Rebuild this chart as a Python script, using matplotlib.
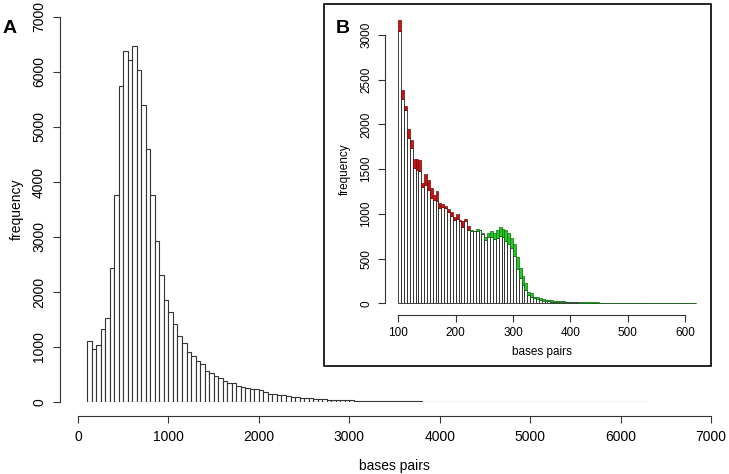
import numpy as np
import matplotlib.pyplot as plt
from matplotlib.patches import Rectangle

plt.rcParams['font.family'] = ['Liberation Sans', 'DejaVu Sans']

# panel A: fragment lengths, bins of 50 bp starting at 100
main_start, main_step = 100, 50
main_counts = [
    1115, 958, 1030, 1333, 1533, 2442, 3764, 5745, 6376, 6224,
    6473, 6030, 5394, 4606, 3758, 2933, 2303, 1848,
    1642, 1412, 1206, 1067, 903, 842, 745, 685, 570, 533,
    473, 442, 382, 352, 352, 291, 273, 261, 230, 242,
    212, 188, 152, 139, 133, 121, 109, 97, 91, 79,
    79, 67, 48, 55, 48, 42, 36, 30,
    33, 31, 28, 27, 24, 23, 21, 20, 18, 17,
    16, 15, 14, 13, 12, 11, 10, 10, 9, 8,
    8, 7, 7, 6, 6, 5, 5, 5, 4, 4,
    4, 3, 3, 3, 3, 2, 2, 2, 2, 2,
    2, 1, 2, 1, 1, 1, 1, 1, 1, 1,
    1, 1, 0, 1, 1, 0, 1, 0, 0, 1,
    0, 1, 0, 0, 1, 0, 0, 1,
]

# panel B: bins of 5 bp starting at 100; base = white bars, top = coloured cap
inset_start, inset_step = 100, 5
inset_base = [
    3040, 2285, 2158, 1852, 1733, 1510, 1491, 1480, 1300, 1323,
    1267, 1181, 1155, 1144, 1062, 1072, 1070, 1024, 975, 930,
    948, 922, 855, 922, 822, 808, 805, 812, 815, 780,
    708, 738, 746, 716, 727, 753, 738, 695, 665, 620,
    525, 380, 283, 205, 152, 93, 67, 54, 44, 37,
    30, 26, 22, 20, 18, 16, 15, 14, 12, 11,
    10, 9, 9, 8, 8, 7, 8, 7, 6, 6,
    5, 5, 4, 4, 4, 3, 3, 3, 3, 2,
    2, 2, 2, 2, 1, 1, 1, 1, 1, 1,
    1, 1, 0, 1, 0, 0, 1, 0, 0, 0,
    0, 0, 0, 0,
]
inset_top = [
    3170, 2386, 2206, 1946, 1823, 1614, 1610, 1605, 1349, 1446,
    1383, 1286, 1211, 1256, 1125, 1108, 1085, 1050, 1022, 970,
    998, 932, 924, 938, 866, 820, 812, 828, 822, 790,
    746, 783, 813, 783, 820, 850, 828, 820, 789, 735,
    660, 521, 390, 300, 223, 130, 112, 75, 67, 56,
    45, 41, 37, 33, 30, 27, 25, 22, 20, 18,
    17, 15, 14, 13, 12, 11, 14, 12, 10, 9,
    8, 7, 7, 6, 5, 5, 5, 4, 4, 4,
    3, 3, 3, 3, 2, 2, 2, 2, 2, 1,
    2, 1, 1, 1, 1, 1, 1, 1, 0, 1,
    1, 0, 1, 0,
]
red_until = 225  # caps left of this are red, the rest green

W, H = 729, 474
fig = plt.figure(figsize=(W / 100, H / 100), dpi=100)


def style_axis(ax, left_out, bottom_out, xb, yb, fs, pad):
    ax.spines['top'].set_visible(False)
    ax.spines['right'].set_visible(False)
    ax.spines['left'].set_position(('outward', left_out))
    ax.spines['bottom'].set_position(('outward', bottom_out))
    ax.spines['left'].set_bounds(*yb)
    ax.spines['bottom'].set_bounds(*xb)
    for s in ('left', 'bottom'):
        ax.spines[s].set_linewidth(0.8)
        ax.spines[s].set_color('#333333')
    ax.tick_params(length=5, width=0.8, color='#333333', labelsize=fs, pad=pad)
    for lab in ax.get_yticklabels():
        lab.set_rotation(90)
        lab.set_va('center')


# main histogram
ax = fig.add_axes([78 / W, (H - 402) / H, (711 - 78) / W, (402 - 17) / H])
edges = main_start + main_step * np.arange(len(main_counts))
ax.bar(edges, main_counts, width=main_step, align='edge', color='white',
       edgecolor='#333333', linewidth=0.8)
ax.set_xlim(0, 7000)
ax.set_ylim(0, 7000)
ax.set_xticks(np.arange(0, 7001, 1000))
ax.set_yticks(np.arange(0, 7001, 1000))
ax.patch.set_visible(False)
style_axis(ax, 13, 10, (0, 7000), (0, 7000), 10, 5)
ax.set_xlabel('bases pairs', fontsize=10, labelpad=11)
ax.set_ylabel('frequency', fontsize=10, labelpad=6)

# inset frame
fig.add_artist(Rectangle((324 / W, (H - 366) / H), (711 - 324) / W, (366 - 4) / H,
                         transform=fig.transFigure, facecolor='white',
                         edgecolor='black', linewidth=1.2, zorder=1))

# inset histogram
ax2 = fig.add_axes([398.3 / W, (H - 303.3) / H, (685 - 398.3) / W, (303.3 - 35) / H], zorder=2)
e2 = inset_start + inset_step * np.arange(len(inset_base))
base = np.array(inset_base)
top = np.array(inset_top)
ax2.bar(e2, base, width=inset_step, align='edge', color='white',
        edgecolor='#222222', linewidth=0.6, clip_on=False)
red = e2 < red_until
ax2.bar(e2[red], (top - base)[red], bottom=base[red], width=inset_step, align='edge',
        color='#cc1111', edgecolor='#661111', linewidth=0.5, clip_on=False)
ax2.bar(e2[~red], (top - base)[~red], bottom=base[~red], width=inset_step, align='edge',
        color='#22cc22', edgecolor='#116611', linewidth=0.5, clip_on=False)
ax2.set_xlim(100, 600)
ax2.set_ylim(0, 3000)
ax2.set_xticks(np.arange(100, 601, 100))
ax2.set_yticks(np.arange(0, 3001, 500))
ax2.patch.set_visible(False)
style_axis(ax2, 9.6, 8.4, (100, 600), (0, 3000), 8.5, 4)
ax2.set_xlabel('bases pairs', fontsize=8.5, labelpad=5)
ax2.set_ylabel('frequency', fontsize=8.5, labelpad=7)

fig.text(3 / W, 1 - 33 / H, 'A', fontsize=14, fontweight='bold', va='baseline')
fig.text(336 / W, 1 - 33 / H, 'B', fontsize=14, fontweight='bold', va='baseline', zorder=3)

fig.savefig('out.png', dpi=100)
